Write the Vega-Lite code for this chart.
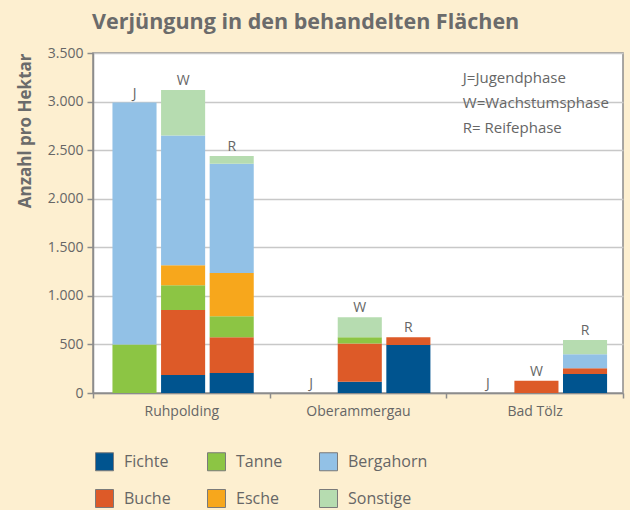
{
  "$schema": "https://vega.github.io/schema/vega-lite/v6.json",
  "width": 530,
  "height": 340,
  "autosize": {"type": "none"},
  "padding": {"left": 93, "top": 53, "right": 7, "bottom": 117},
  "background": "#FDEFD0",
  "title": {
    "text": "Verjüngung in den behandelten Flächen",
    "anchor": "start",
    "frame": "group",
    "fontSize": 21.5,
    "font": "Open Sans",
    "fontWeight": "bold",
    "color": "#6B6B6B",
    "offset": 13,
    "dx": -1
  },
  "config": {
    "font": "Open Sans",
    "view": {"fill": "white", "stroke": "#8C8C8C", "strokeWidth": 1.5}
  },
  "data": {
    "values": [
      {"location": "Ruhpolding", "phase": "J", "species": "Tanne", "value": 500},
      {"location": "Ruhpolding", "phase": "J", "species": "Bergahorn", "value": 2490},
      {"location": "Ruhpolding", "phase": "W", "species": "Fichte", "value": 185},
      {"location": "Ruhpolding", "phase": "W", "species": "Buche", "value": 670},
      {"location": "Ruhpolding", "phase": "W", "species": "Tanne", "value": 255},
      {"location": "Ruhpolding", "phase": "W", "species": "Esche", "value": 205},
      {"location": "Ruhpolding", "phase": "W", "species": "Bergahorn", "value": 1335},
      {"location": "Ruhpolding", "phase": "W", "species": "Sonstige", "value": 470},
      {"location": "Ruhpolding", "phase": "R", "species": "Fichte", "value": 205},
      {"location": "Ruhpolding", "phase": "R", "species": "Buche", "value": 370},
      {"location": "Ruhpolding", "phase": "R", "species": "Tanne", "value": 215},
      {"location": "Ruhpolding", "phase": "R", "species": "Esche", "value": 445},
      {"location": "Ruhpolding", "phase": "R", "species": "Bergahorn", "value": 1125},
      {"location": "Ruhpolding", "phase": "R", "species": "Sonstige", "value": 80},
      {"location": "Oberammergau", "phase": "J", "species": "Fichte", "value": 0},
      {"location": "Oberammergau", "phase": "W", "species": "Fichte", "value": 115},
      {"location": "Oberammergau", "phase": "W", "species": "Buche", "value": 395},
      {"location": "Oberammergau", "phase": "W", "species": "Tanne", "value": 65},
      {"location": "Oberammergau", "phase": "W", "species": "Sonstige", "value": 205},
      {"location": "Oberammergau", "phase": "R", "species": "Fichte", "value": 495},
      {"location": "Oberammergau", "phase": "R", "species": "Buche", "value": 80},
      {"location": "Bad Tölz", "phase": "J", "species": "Fichte", "value": 0},
      {"location": "Bad Tölz", "phase": "W", "species": "Buche", "value": 125},
      {"location": "Bad Tölz", "phase": "R", "species": "Fichte", "value": 195},
      {"location": "Bad Tölz", "phase": "R", "species": "Buche", "value": 60},
      {"location": "Bad Tölz", "phase": "R", "species": "Bergahorn", "value": 145},
      {"location": "Bad Tölz", "phase": "R", "species": "Sonstige", "value": 145}
    ]
  },
  "encoding": {
    "x": {
      "field": "location",
      "type": "nominal",
      "sort": ["Ruhpolding", "Oberammergau", "Bad Tölz"],
      "scale": {"paddingInner": 0, "paddingOuter": 0},
      "axis": {
        "title": null,
        "labelAngle": 0,
        "labelFontSize": 14,
        "labelColor": "#666666",
        "labelPadding": 6,
        "tickBand": "extent",
        "tickSize": 5,
        "tickColor": "#8C8C8C",
        "tickWidth": 1.5,
        "domainColor": "#8C8C8C",
        "domainWidth": 1.5,
        "grid": false
      }
    },
    "xOffset": {
      "field": "phase",
      "type": "nominal",
      "sort": ["J", "W", "R"],
      "scale": {"paddingInner": 0.093, "paddingOuter": 0.364, "align": 0.55}
    }
  },
  "layer": [
    {
      "mark": {"type": "bar"},
      "transform": [
        {"calculate": "indexof(['Fichte','Buche','Tanne','Esche','Bergahorn','Sonstige'], datum.species)", "as": "stackorder"}
      ],
      "encoding": {
        "y": {
          "field": "value",
          "type": "quantitative",
          "stack": "zero",
          "scale": {"domain": [0, 3500], "nice": false},
          "axis": {
            "title": "Anzahl pro Hektar",
            "titleFontSize": 17,
            "titleFontWeight": "bold",
            "titleColor": "#6B6B6B",
            "titleAnchor": "end",
            "titlePadding": 13,
            "values": [0, 500, 1000, 1500, 2000, 2500, 3000, 3500],
            "labelExpr": "replace(format(datum.value, ','), ',', '.')",
            "labelFontSize": 14,
            "labelColor": "#666666",
            "labelPadding": 4,
            "tickSize": 6,
            "tickColor": "#8C8C8C",
            "tickWidth": 1.5,
            "domainColor": "#8C8C8C",
            "domainWidth": 1.5,
            "grid": true,
            "gridColor": "#C8C8C8",
            "gridWidth": 1.5
          }
        },
        "color": {
          "field": "species",
          "type": "nominal",
          "scale": {
            "domain": ["Fichte", "Tanne", "Bergahorn", "Buche", "Esche", "Sonstige"],
            "range": ["#00548F", "#8CC544", "#92C1E6", "#DD5A28", "#F7A71C", "#B6DCB0"]
          },
          "legend": {
            "title": null,
            "orient": "none",
            "legendX": 2,
            "legendY": 399,
            "direction": "horizontal",
            "columns": 3,
            "columnPadding": 34,
            "rowPadding": 14,
            "padding": 0,
            "symbolType": "square",
            "symbolSize": 324,
            "symbolStrokeColor": "#7A7A7A",
            "symbolStrokeWidth": 1,
            "symbolOpacity": 1,
            "labelFontSize": 16,
            "labelColor": "#666666",
            "labelOffset": 10,
            "gridAlign": "each"
          }
        },
        "order": {"field": "stackorder", "type": "quantitative"}
      }
    },
    {
      "transform": [
        {"aggregate": [{"op": "sum", "field": "value", "as": "total"}], "groupby": ["location", "phase"]}
      ],
      "mark": {"type": "text", "fontSize": 14, "color": "#666666", "baseline": "alphabetic", "dy": -5},
      "encoding": {
        "y": {"field": "total", "type": "quantitative"},
        "text": {"field": "phase"}
      }
    },
    {
      "data": {"values": [{}]},
      "mark": {
        "type": "text",
        "text": ["J=Jugendphase", "W=Wachstumsphase", "R= Reifephase"],
        "lineHeight": 25,
        "fontSize": 15,
        "color": "#666666",
        "align": "left",
        "baseline": "middle",
        "dx": -25
      },
      "encoding": {
        "x": {"datum": "Bad Tölz"},
        "xOffset": {"datum": "J"},
        "y": {"datum": 3245}
      }
    }
  ]
}
